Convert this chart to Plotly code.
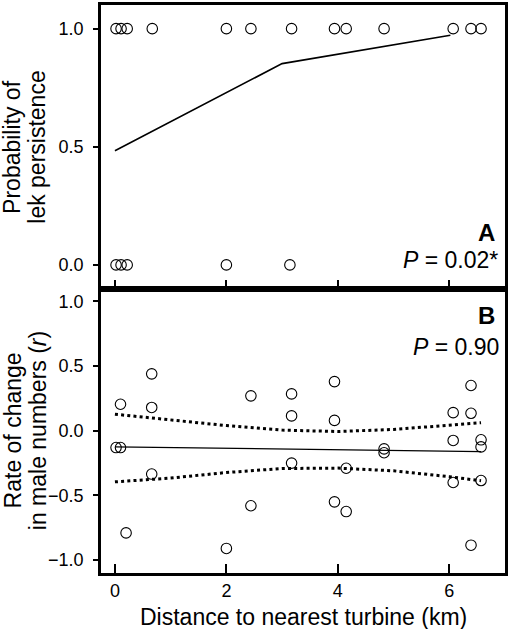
import plotly.graph_objects as go

# ---------------- data ----------------
# Panel A: lek persistence (1 = persisted, 0 = extirpated)
dist_persist = [0.02, 0.11, 0.22, 0.67, 2.0, 2.44, 3.17, 3.94, 4.15, 4.83, 6.07, 6.39, 6.57]
dist_lost = [0.02, 0.11, 0.22, 2.0, 3.14]
fitA_x = [0.0, 3.0, 6.02]
fitA_y = [0.483, 0.852, 0.972]

# Panel B: rate of change in male numbers
distB = [0.02, 0.10, 0.10, 0.20, 0.66, 0.66, 0.66, 2.0, 2.44, 2.44, 3.17, 3.17, 3.17,
         3.94, 3.94, 3.94, 4.15, 4.15, 4.83, 4.83, 6.07, 6.07, 6.07, 6.39, 6.39, 6.39,
         6.57, 6.57, 6.57]
rateB = [-0.13, -0.13, 0.205, -0.79, 0.44, 0.18, -0.335, -0.91, 0.27, -0.58, 0.285, 0.115, -0.25,
         0.38, 0.08, -0.55, -0.29, -0.625, -0.14, -0.17, 0.14, -0.075, -0.40, 0.35, 0.135, -0.885,
         -0.07, -0.125, -0.385]
fitB_x = [0.0, 6.57]
fitB_y = [-0.125, -0.161]
ci_x = [0, 1, 2, 3, 4, 5, 6, 6.57]
ci_upper = [0.128, 0.082, 0.04, 0.005, -0.006, 0.01, 0.04, 0.062]
ci_lower = [-0.395, -0.366, -0.323, -0.292, -0.289, -0.31, -0.355, -0.387]

x_ticks = [0, 2, 4, 6]
yA_ticks = [0.0, 0.5, 1.0]
yB_ticks = [-1.0, -0.5, 0.0, 0.5, 1.0]

FONT = "Arial, Liberation Sans, sans-serif"

fig = go.Figure()

marker = dict(symbol="circle-open", size=10.5, color="black", line=dict(width=1.1, color="black"))
dotted = dict(color="black", width=3, dash="3px,3.2px")

# Panel A
fig.add_trace(go.Scatter(x=fitA_x, y=fitA_y, mode="lines", line=dict(color="black", width=1.6),
                         xaxis="x2", yaxis="y2", showlegend=False))
fig.add_trace(go.Scatter(x=dist_persist, y=[1.0] * len(dist_persist), mode="markers", marker=marker,
                         xaxis="x2", yaxis="y2", showlegend=False))
fig.add_trace(go.Scatter(x=dist_lost, y=[0.0] * len(dist_lost), mode="markers", marker=marker,
                         xaxis="x2", yaxis="y2", showlegend=False))

# Panel B
fig.add_trace(go.Scatter(x=ci_x, y=ci_upper, mode="lines", line=dotted,
                         xaxis="x", yaxis="y", showlegend=False))
fig.add_trace(go.Scatter(x=ci_x, y=ci_lower, mode="lines", line=dotted,
                         xaxis="x", yaxis="y", showlegend=False))
fig.add_trace(go.Scatter(x=fitB_x, y=fitB_y, mode="lines", line=dict(color="black", width=1.2),
                         xaxis="x", yaxis="y", showlegend=False))
fig.add_trace(go.Scatter(x=distB, y=rateB, mode="markers", marker=marker,
                         xaxis="x", yaxis="y", showlegend=False))

split = (573 - 287) / 571.0

common_x = dict(range=[-0.25, 7.0], tickvals=x_ticks, ticks="inside", ticklen=9, tickwidth=2,
                tickcolor="black", showline=True, linecolor="black", linewidth=2.5, mirror=True,
                showgrid=False, zeroline=False, tickfont=dict(family=FONT, size=18, color="black"))
common_y = dict(ticks="outside", ticklen=5, tickwidth=2, tickcolor="black", showline=True,
                linecolor="black", linewidth=2.5, mirror=True, showgrid=False, zeroline=False,
                tickformat=".1f", tickfont=dict(family=FONT, size=18, color="black"),
                ticklabelstandoff=6)

fig.update_layout(
    width=510, height=629,
    margin=dict(l=101, r=2, t=2, b=56),
    paper_bgcolor="white", plot_bgcolor="white",
    xaxis=dict(domain=[0, 1], anchor="y", ticklabelstandoff=0, **common_x),
    yaxis=dict(domain=[0, split], anchor="x", range=[-1.1, 1.1], tickvals=yB_ticks, **common_y),
    xaxis2=dict(domain=[0, 1], anchor="y2", showticklabels=False, matches="x", **common_x),
    yaxis2=dict(domain=[split, 1], anchor="x2", range=[-0.1, 1.1], tickvals=yA_ticks, **common_y),
)

def px_x(px):
    return (px - 101) / 407.0

def px_y(py):
    return (573 - py) / 571.0

TITLE = 23
ann = []
# x-axis title
ann.append(dict(text="Distance to nearest turbine (km)", x=px_x(305), y=px_y(617), xref="paper", yref="paper",
                xanchor="center", yanchor="middle", showarrow=False,
                font=dict(family=FONT, size=TITLE, color="black")))
# y titles
for txt, cx, cy in [("Probability of", 12, 145), ("lek persistence", 37, 145),
                    ("Rate of change", 12, 430), ("in male numbers (<i>r</i>)", 37, 430)]:
    ann.append(dict(text=txt, x=px_x(cx), y=px_y(cy), xref="paper", yref="paper", textangle=-90,
                    xanchor="center", yanchor="middle", showarrow=False,
                    font=dict(family=FONT, size=TITLE, color="black")))
# panel labels
ann.append(dict(text="<b>A</b>", x=px_x(500), y=px_y(231), xref="paper", yref="paper",
                xanchor="right", yanchor="middle", showarrow=False,
                font=dict(family=FONT, size=24, color="black")))
ann.append(dict(text="<i>P</i> = 0.02*", x=px_x(503), y=px_y(258), xref="paper", yref="paper",
                xanchor="right", yanchor="middle", showarrow=False,
                font=dict(family=FONT, size=23, color="black")))
ann.append(dict(text="<b>B</b>", x=px_x(500), y=px_y(314), xref="paper", yref="paper",
                xanchor="right", yanchor="middle", showarrow=False,
                font=dict(family=FONT, size=24, color="black")))
ann.append(dict(text="<i>P</i> = 0.90", x=px_x(504), y=px_y(346), xref="paper", yref="paper",
                xanchor="right", yanchor="middle", showarrow=False,
                font=dict(family=FONT, size=23, color="black")))
fig.update_layout(annotations=ann)

fig.write_html("out.html", config={"displayModeBar": False},
               post_script="document.body.style.margin='0';document.body.style.padding='0';")
